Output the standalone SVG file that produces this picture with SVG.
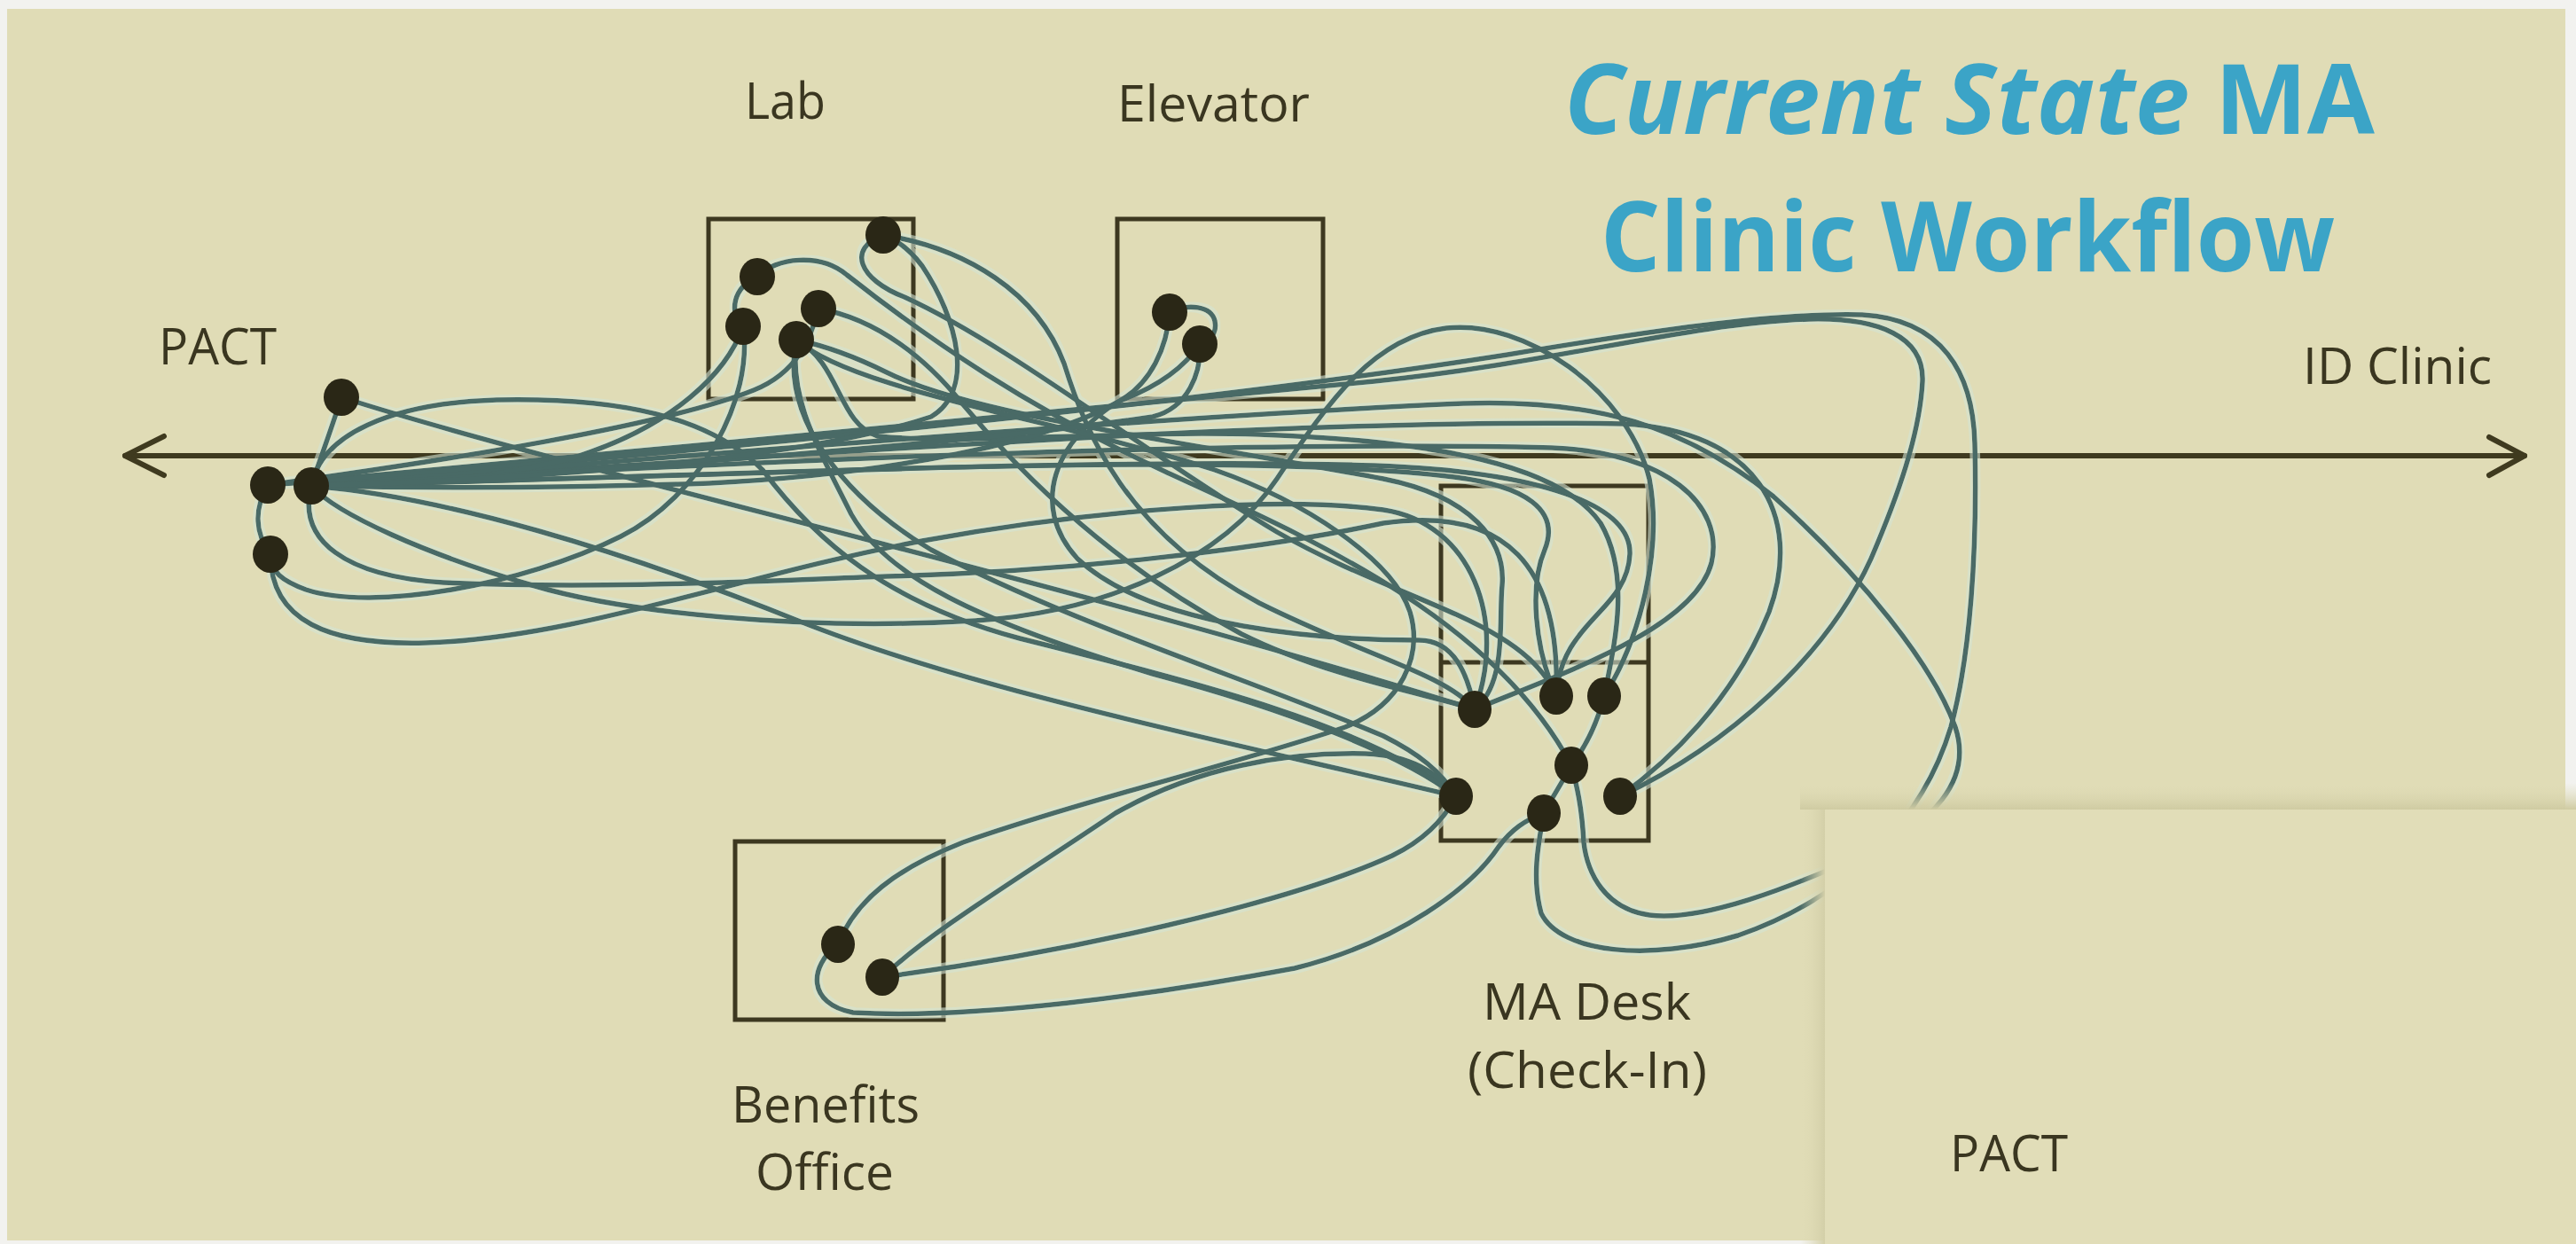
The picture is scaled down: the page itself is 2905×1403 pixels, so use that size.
<svg xmlns="http://www.w3.org/2000/svg" width="2905" height="1403" viewBox="0 0 2905 1403">
  <defs>
    <style>
      .label { font-family: "Open Sans", "Liberation Sans", sans-serif; font-size: 57px; fill: #3a3620; }
      .title { font-family: "Open Sans", "Liberation Sans", sans-serif; font-size: 110px; font-weight: bold; fill: #3ba4c7; }
      .room { fill: none; stroke: #3d3820; stroke-width: 5; }
      .stop { fill: #2a2716; }
      .walk { fill: none; stroke: #4a6a66; stroke-width: 5.5; stroke-linecap: round; stroke-linejoin: round; }
      .axis { fill: none; stroke: #3f3a1f; stroke-width: 6; stroke-linecap: round; stroke-linejoin: round; }
    </style>
    <filter id="halo" x="-5%" y="-5%" width="110%" height="110%">
      <feMorphology in="SourceAlpha" operator="dilate" radius="3" result="wide"/>
      <feFlood flood-color="#d2e4d4" flood-opacity="0.6"/>
      <feComposite in2="wide" operator="in" result="glow"/>
      <feMerge>
        <feMergeNode in="glow"/>
        <feMergeNode in="SourceGraphic"/>
      </feMerge>
    </filter>
    <linearGradient id="shadeTop" x1="0" y1="0" x2="0" y2="1">
      <stop offset="0" stop-color="#e0dcb6" stop-opacity="0"/>
      <stop offset="1" stop-color="#cfcba2"/>
    </linearGradient>
    <linearGradient id="shadeLeft" x1="0" y1="0" x2="1" y2="0">
      <stop offset="0" stop-color="#e0dcb6" stop-opacity="0"/>
      <stop offset="1" stop-color="#d3cfa8"/>
    </linearGradient>
  </defs>

  <!-- page and frame -->
  <rect x="0" y="0" width="2905" height="1403" fill="#f2f2ef"/>
  <rect x="8" y="10" width="2885" height="1389" fill="#e0dcb6"/>

  <!-- horizontal corridor axis with open arrowheads -->
  <g id="axis">
    <path class="axis" d="M141,514 H2847"/>
    <path class="axis" d="M185,492 L141,514 L185,536"/>
    <path class="axis" d="M2807,493 L2847,514 L2807,536"/>
  </g>

  <!-- rooms -->
  <g id="lab"><rect class="room" x="799" y="247" width="231" height="203"/></g>
  <g id="elevator"><rect class="room" x="1260" y="247" width="232" height="203"/></g>
  <g id="ma-desk">
    <rect class="room" x="1625" y="548" width="234" height="400"/>
    <path class="room" d="M1625,747 H1859"/>
  </g>
  <g id="benefits-office"><rect class="room" x="829" y="949" width="235" height="201"/></g>

  <!-- walking paths between stops -->
  <g id="connectors" class="walk" filter="url(#halo)">
    <path d="M385,448 C375,480 362,515 351,548"/>
    <path d="M302,547 C286,575 288,602 305,625"/>
    <path d="M385,448 C640,530 1180,650 1663,800"/>
    <path d="M351,548 C362,490 440,455 560,451 C700,448 800,470 860,530 C920,610 1000,680 1150,720 C1350,770 1550,820 1642,898"/>
    <path d="M351,548 C700,540 1250,515 1550,525 C1740,532 1840,570 1838,625 C1835,690 1760,700 1755,785"/>
    <path d="M351,548 C750,525 1350,495 1750,505 C1880,510 1945,570 1930,635 C1910,710 1760,760 1663,800"/>
    <path d="M351,548 C800,520 1450,470 1830,478 C1980,485 2035,580 1995,690 C1955,790 1880,860 1827,898"/>
    <path d="M302,547 C700,510 1250,460 1550,430 C1750,410 1900,365 2040,360 C2120,358 2170,380 2168,430 C2165,490 2140,560 2110,630 C2060,740 1950,840 1827,898"/>
    <path d="M302,547 C750,515 1350,455 1700,400 C1850,375 2000,352 2100,355 C2190,360 2225,420 2227,500 C2230,620 2222,740 2200,820 C2170,920 2090,1010 1960,1055 C1860,1085 1760,1075 1738,1030 C1727,990 1735,950 1741,917"/>
    <path d="M352,548 C700,520 1300,470 1650,455 C1800,450 1900,480 2000,560 C2100,650 2180,750 2205,820 C2225,880 2180,930 2100,965 C2020,1000 1920,1040 1860,1032 C1810,1025 1790,985 1786,950 C1784,910 1778,885 1772,863"/>
    <path d="M305,625 C305,700 370,728 480,725 C650,720 830,650 1040,610 C1250,572 1450,560 1560,575 C1660,590 1700,700 1663,800"/>
    <path d="M351,548 C335,610 390,650 500,657 C680,665 860,655 1000,650 C1200,645 1420,620 1560,590 C1700,570 1760,640 1755,785"/>
    <path d="M351,548 C500,560 700,620 900,700 C1100,780 1400,840 1642,898"/>
    <path d="M898,383 C880,470 950,560 1050,620 C1200,700 1420,770 1560,830 C1600,850 1625,870 1642,898"/>
    <path d="M996,265 C955,280 968,315 1020,335 C1140,390 1290,510 1440,600 C1580,680 1720,700 1755,785"/>
    <path d="M996,265 C1090,280 1170,330 1200,410 C1225,490 1270,600 1420,680 C1540,740 1630,760 1663,800"/>
    <path d="M854,312 C875,290 925,285 955,310 C1050,385 1160,460 1310,530 C1460,600 1680,690 1772,863"/>
    <path d="M854,312 C826,325 822,352 838,368"/>
    <path d="M838,368 C850,450 790,560 700,605 C590,660 420,690 345,665 C318,655 305,645 305,625"/>
    <path d="M898,383 C948,410 945,478 990,492 C1100,502 1260,485 1420,490 C1620,497 1760,525 1805,590 C1840,650 1820,730 1809,785"/>
    <path d="M898,383 C890,450 920,500 960,580 C1000,650 1100,700 1300,760 C1450,800 1580,850 1642,898"/>
    <path d="M923,348 C990,360 1045,405 1085,455 C1160,545 1260,640 1400,715 C1500,765 1620,785 1663,800"/>
    <path d="M838,368 C820,420 760,480 650,515 C540,545 430,548 351,548"/>
    <path d="M1319,352 C1340,342 1366,345 1370,362 C1373,377 1363,385 1353,388"/>
    <path d="M1319,352 C1316,392 1298,432 1263,452 C1180,500 1000,535 800,545 C600,552 450,550 351,548"/>
    <path d="M1353,388 C1332,420 1295,440 1263,452 C1190,495 1160,570 1215,630 C1300,710 1500,722 1600,722 C1640,722 1655,760 1663,800"/>
    <path d="M1809,785 C1800,820 1786,845 1772,863"/>
    <path d="M1772,863 C1762,882 1750,900 1741,917"/>
    <path d="M1755,785 C1730,730 1725,660 1742,620 C1760,575 1720,548 1640,538 C1450,515 1100,525 800,535 C600,542 450,546 351,548"/>
    <path d="M1663,800 C1700,770 1690,700 1694,660 C1698,610 1660,560 1560,540 C1350,500 1100,470 1000,420 C960,400 930,390 898,383"/>
    <path d="M945,1065 C965,1015 1010,980 1086,950 C1230,900 1400,860 1517,820 C1580,795 1605,740 1590,690 C1570,630 1470,565 1370,530 C1200,475 960,440 898,383"/>
    <path d="M995,1102 C1050,1050 1150,990 1258,917 C1350,865 1450,848 1540,850 C1590,852 1620,870 1642,898"/>
    <path d="M995,1102 C1200,1075 1450,1020 1570,965 C1605,948 1628,925 1642,898"/>
    <path d="M945,1065 C912,1090 910,1132 962,1142 C1100,1150 1300,1122 1460,1092 C1580,1062 1660,1000 1690,955 C1705,935 1720,925 1741,917"/>
    <path d="M1809,785 C1850,720 1875,620 1860,540 C1835,440 1720,360 1631,370 C1550,380 1500,450 1440,540 C1380,630 1250,690 1100,700 C900,712 700,690 600,660 C480,625 380,580 351,548"/>
    <path d="M351,548 C700,530 1100,500 1300,470 C1340,460 1355,420 1353,388"/>
    <path d="M302,547 C500,520 750,480 850,440 C900,420 915,380 923,348"/>
    <path d="M351,548 C600,540 900,520 1050,470 C1100,440 1080,360 1040,300 C1025,280 1010,270 996,265"/>
  </g>

  <!-- stop markers -->
  <g id="pact-stops">
    <ellipse class="stop" cx="385" cy="448" rx="20" ry="21"/>
    <ellipse class="stop" cx="302" cy="547" rx="20" ry="21"/>
    <ellipse class="stop" cx="351" cy="548" rx="20" ry="21"/>
    <ellipse class="stop" cx="305" cy="625" rx="20" ry="21"/>
  </g>
  <g id="lab-stops">
    <ellipse class="stop" cx="996" cy="265" rx="20" ry="21"/>
    <ellipse class="stop" cx="854" cy="312" rx="20" ry="21"/>
    <ellipse class="stop" cx="923" cy="348" rx="20" ry="21"/>
    <ellipse class="stop" cx="838" cy="368" rx="20" ry="21"/>
    <ellipse class="stop" cx="898" cy="383" rx="20" ry="21"/>
  </g>
  <g id="elevator-stops">
    <ellipse class="stop" cx="1319" cy="352" rx="20" ry="21"/>
    <ellipse class="stop" cx="1353" cy="388" rx="20" ry="21"/>
  </g>
  <g id="ma-stops">
    <ellipse class="stop" cx="1663" cy="800" rx="19" ry="21"/>
    <ellipse class="stop" cx="1755" cy="785" rx="19" ry="21"/>
    <ellipse class="stop" cx="1809" cy="785" rx="19" ry="21"/>
    <ellipse class="stop" cx="1772" cy="863" rx="19" ry="21"/>
    <ellipse class="stop" cx="1642" cy="898" rx="19" ry="21"/>
    <ellipse class="stop" cx="1741" cy="917" rx="19" ry="21"/>
    <ellipse class="stop" cx="1827" cy="898" rx="19" ry="21"/>
  </g>
  <g id="benefits-stops">
    <ellipse class="stop" cx="945" cy="1065" rx="19" ry="21"/>
    <ellipse class="stop" cx="995" cy="1102" rx="19" ry="21"/>
  </g>

  <!-- overlapping card in the lower right -->
  <g id="pact-card">
    <rect x="2030" y="913" width="28" height="490" fill="url(#shadeLeft)"/>
    <rect x="2030" y="883" width="875" height="30" fill="url(#shadeTop)"/>
    <rect x="2058" y="913" width="847" height="490" fill="#e1ddb8"/>
    <text class="label" x="2199" y="1321" textLength="133" lengthAdjust="spacingAndGlyphs">PACT</text>
  </g>

  <!-- labels -->
  <g id="labels">
    <text class="label" x="840" y="134" textLength="91" lengthAdjust="spacingAndGlyphs">Lab</text>
    <text class="label" x="1260" y="137" textLength="217" lengthAdjust="spacingAndGlyphs">Elevator</text>
    <text class="label" x="179" y="411" textLength="133" lengthAdjust="spacingAndGlyphs">PACT</text>
    <text class="label" x="2597" y="433" textLength="213" lengthAdjust="spacingAndGlyphs">ID Clinic</text>
    <text class="label" x="1672" y="1150" textLength="235" lengthAdjust="spacingAndGlyphs">MA Desk</text>
    <text class="label" x="1655" y="1227" textLength="270" lengthAdjust="spacingAndGlyphs">(Check-In)</text>
    <text class="label" x="825" y="1266" textLength="212" lengthAdjust="spacingAndGlyphs">Benefits</text>
    <text class="label" x="852" y="1342" textLength="156" lengthAdjust="spacingAndGlyphs">Office</text>
  </g>

  <!-- title -->
  <g id="title">
    <text class="title" x="1764" y="151" textLength="914" lengthAdjust="spacingAndGlyphs"><tspan font-style="italic">Current State</tspan> MA</text>
    <text class="title" x="1805" y="306" textLength="828" lengthAdjust="spacingAndGlyphs">Clinic Workflow</text>
  </g>
</svg>
